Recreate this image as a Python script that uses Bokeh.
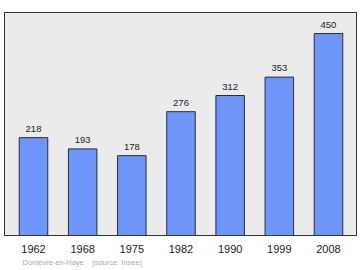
from bokeh.plotting import figure
from bokeh.models import Range1d, FixedTicker, ColumnDataSource, Title
from bokeh.core.properties import value
from bokeh.embed import file_html
from bokeh.resources import INLINE

years = ["1962", "1968", "1975", "1982", "1990", "1999", "2008"]
population = [218, 193, 178, 276, 312, 353, 450]
source_note = "Domèvre-en-Haye\u00a0\u00a0\u00a0\u00a0(source: Insee)"

FONT = "Liberation Sans"
xs = list(range(len(years)))
src = ColumnDataSource(dict(x=xs, top=population, lab=[str(v) for v in population]))

p = figure(width=360, height=270, output_backend="svg", toolbar_location=None,
           x_range=Range1d(-0.59, 6.57), y_range=Range1d(0, 497),
           min_border_left=4, min_border_right=4, min_border_top=12, min_border_bottom=0)
p.background_fill_color = "#ebebeb"
p.border_fill_color = "white"
p.outline_line_color = "#333333"
p.outline_line_width = 1
p.grid.visible = False
p.yaxis.visible = False

p.vbar(x="x", top="top", bottom=0, width=0.58, source=src,
       fill_color="#6e95fa", line_color="#2b2b3b", line_width=1)
p.text(x="x", y="top", text="lab", source=src, text_align="center",
       text_baseline="bottom", y_offset=-6, text_font_size="9.5px", text_color="#222222",
       text_font=value(FONT))

ax = p.xaxis[0]
ax.ticker = FixedTicker(ticks=xs)
ax.major_label_overrides = {i: y for i, y in enumerate(years)}
ax.axis_line_color = None
ax.major_tick_line_color = None
ax.minor_tick_line_color = None
ax.major_label_text_font_size = "11px"
ax.major_label_text_color = "#222222"
ax.major_label_text_font = FONT
ax.major_label_standoff = 3

p.add_layout(Title(text=source_note, text_font_size="7.5px", text_color="#aaaaaa",
                   text_font=FONT, text_font_style="normal", align="left",
                   offset=16, standoff=0, vertical_align="top", padding=2), "below")

open("out.html", "w").write(file_html(p, INLINE))
